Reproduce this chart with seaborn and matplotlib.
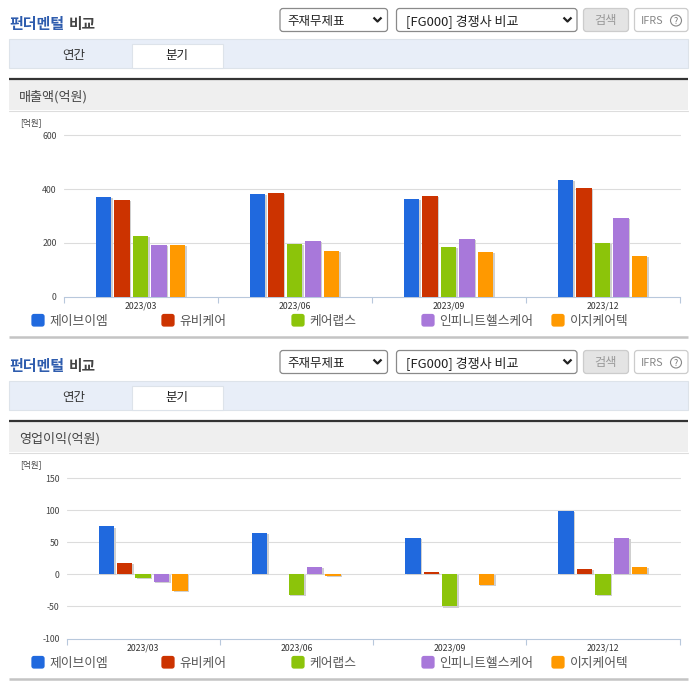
import pandas as pd
import matplotlib
matplotlib.use("Agg")
import matplotlib.pyplot as plt
import matplotlib.patheffects as pe
from matplotlib.patches import FancyBboxPatch, Rectangle, Circle
import seaborn as sns

# values
periods = ["2023/03", "2023/06", "2023/09", "2023/12"]
companies = ["제이브이엠", "유비케어", "케어랩스", "인피니트헬스케어", "이지케어텍"]
colors = ["#2069DE", "#CC3300", "#8CC40A", "#A878DA", "#FF9900"]

sales_jvm = [371, 383, 363, 433]
sales_ubcare = [359, 386, 375, 404]
sales_carelabs = [225, 196, 184, 200]
sales_infinitt = [191, 207, 214, 292]
sales_ezcare = [191, 170, 165, 150]

profit_jvm = [74.5, 65, 57, 98]
profit_ubcare = [17, 1, 4, 9]
profit_carelabs = [-6, -32, -50, -32]
profit_infinitt = [-12, 12, 0, 56]
profit_ezcare = [-26, -3, -16, 12]

sales_ticks = [0, 200, 400, 600]
profit_ticks = [-100, -50, 0, 50, 100, 150]

sns.set_theme(style="white")
plt.rcParams["font.family"] = ["Noto Sans CJK KR", "DejaVu Sans"]
plt.rcParams["axes.unicode_minus"] = False

W, H = 696, 684
fig = plt.figure(figsize=(W / 100, H / 100), dpi=100, facecolor="white")

# page furniture goes on one axes in pixel coordinates
bg = fig.add_axes([0, 0, 1, 1])
bg.set_xlim(0, W)
bg.set_ylim(H, 0)
bg.axis("off")


def rbox(x0, y0, x1, y1, fc, ec, r=3):
    bg.add_patch(FancyBboxPatch((x0, y0), x1 - x0, y1 - y0, boxstyle=f"round,pad=0,rounding_size={r}",
                                fc=fc, ec=ec, lw=0.9))


def chevron(x, y):
    bg.plot([x - 4, x, x + 4], [y - 2, y + 2, y - 2], color="#222222", lw=1.6, solid_capstyle="butt")


def draw_header(dy, heading):
    # title and form controls
    bg.text(9.5, 23.5 + dy, "펀더멘털", fontsize=10.8, color="#2F5DAE", weight="bold", va="center")
    bg.text(69, 23.5 + dy, "비교", fontsize=10.6, color="#444444", weight="bold", va="center")

    rbox(280, 8.5 + dy, 387.5, 31.5 + dy, "white", "#8A8A8A")
    bg.text(287.5, 21 + dy, "주재무제표", fontsize=9, color="#222222", va="center")
    chevron(377.5, 19.5 + dy)

    rbox(396.5, 8.5 + dy, 577, 31.5 + dy, "white", "#8A8A8A")
    bg.text(405.5, 21 + dy, "[FG000] 경쟁사 비교", fontsize=9.4, color="#222222", va="center")
    chevron(567.5, 19.5 + dy)

    rbox(583.5, 8.5 + dy, 628.5, 31.5 + dy, "#E4E4E4", "#CCCCCC")
    bg.text(606, 20.5 + dy, "검색", fontsize=8.8, color="#999999", va="center", ha="center")

    rbox(634.5, 8.5 + dy, 688, 31.5 + dy, "white", "#CCCCCC")
    bg.text(640.5, 21 + dy, "IFRS", fontsize=7.8, color="#888888", va="center")
    bg.add_patch(Circle((676, 20.5 + dy), 5.5, fc="white", ec="#888888", lw=0.8))
    bg.text(676, 21 + dy, "?", fontsize=6.5, color="#777777", va="center", ha="center")

    # tabs
    bg.add_patch(Rectangle((9, 38.5 + dy), 679, 29, fc="#E8EEF8", ec="#DDE3EA", lw=0.8))
    bg.add_patch(Rectangle((131.5, 43.5 + dy), 91, 24, fc="white", ec="#DDE3EA", lw=0.8))
    bg.text(74, 55 + dy, "연간", fontsize=9, color="#333333", va="center", ha="center")
    bg.text(177, 56 + dy, "분기", fontsize=9, color="#222222", va="center", ha="center")

    # section heading band
    bg.add_patch(Rectangle((9, 79 + dy), 679, 31, fc="#EFEFEF", ec="none"))
    bg.plot([9, 688], [79 + dy, 79 + dy], color="#333333", lw=1.6, solid_capstyle="butt")
    bg.plot([9, 688], [110.5 + dy, 110.5 + dy], color="#DDDDDD", lw=0.8)
    bg.text(19, 97 + dy, heading, fontsize=9.4, color="#444444", va="center")

    bg.text(20, 123 + dy, "[억원]", fontsize=6.2, color="#444444", va="center")

    # legend row and closing rule
    for name, col, x in zip(companies, colors, [32, 162, 292, 422, 552]):
        rbox(x, 314.5 + dy, x + 12, 326 + dy, col, col, r=2)
        bg.text(x + 17.5, 321 + dy, name, fontsize=9.2, color="#555555", va="center")
    bg.plot([9, 688], [336.8 + dy, 336.8 + dy], color="#C4C4C4", lw=1.8, solid_capstyle="butt")


def draw_chart(left, right, top, bottom, series, ticks):
    ax = fig.add_axes([left / W, 1 - bottom / H, (right - left) / W, (bottom - top) / H])
    ax.patch.set_alpha(0)

    rows = []
    for name, vals in zip(companies, series):
        for period, v in zip(periods, vals):
            rows.append({"period": period, "company": name, "value": v})
    df = pd.DataFrame(rows)

    sns.barplot(data=df, x="period", y="value", hue="company", hue_order=companies, palette=colors,
                saturation=1, width=0.6, gap=0.16, linewidth=0, legend=False, ax=ax, zorder=3)
    for bar in ax.patches:
        if bar.get_height() == 0:
            continue
        bar.set_path_effects([pe.withSimplePatchShadow(offset=(1.1, -0.8), shadow_rgbFace="#CFCFCF", alpha=1),
                              pe.Normal()])

    ax.set_xlim(-0.5, 3.5)
    ax.set_ylim(ticks[0], ticks[-1])
    ax.set_yticks(ticks)
    ax.set_xlabel("")
    ax.set_ylabel("")
    ax.grid(axis="y", color="#DCDCDC", lw=0.8)
    ax.set_axisbelow(True)
    for line in ax.get_ygridlines():
        line.set_clip_on(False)
    ax.get_ygridlines()[0].set_visible(False)
    for side in ["top", "right", "left"]:
        ax.spines[side].set_visible(False)
    ax.spines["bottom"].set_color("#B8C8DC")
    ax.spines["bottom"].set_linewidth(0.8)

    ax.set_xticks([-0.5, 0.5, 1.5, 2.5, 3.5], minor=True)
    ax.tick_params(axis="x", which="minor", bottom=True, length=4, width=0.8, color="#B8C8DC")
    ax.tick_params(axis="x", which="major", length=0, pad=3.5, labelsize=6.3, labelcolor="#333333")
    ax.tick_params(axis="y", length=0, pad=5, labelsize=6.3, labelcolor="#444444")
    return ax


draw_header(0, "매출액(억원)")
draw_header(342, "영업이익(억원)")

draw_chart(63.5, 679.5, 135.5, 296.5,
           [sales_jvm, sales_ubcare, sales_carelabs, sales_infinitt, sales_ezcare], sales_ticks)
draw_chart(66.5, 679.5, 478, 638.5,
           [profit_jvm, profit_ubcare, profit_carelabs, profit_infinitt, profit_ezcare], profit_ticks)

fig.savefig("out.png", dpi=100)
